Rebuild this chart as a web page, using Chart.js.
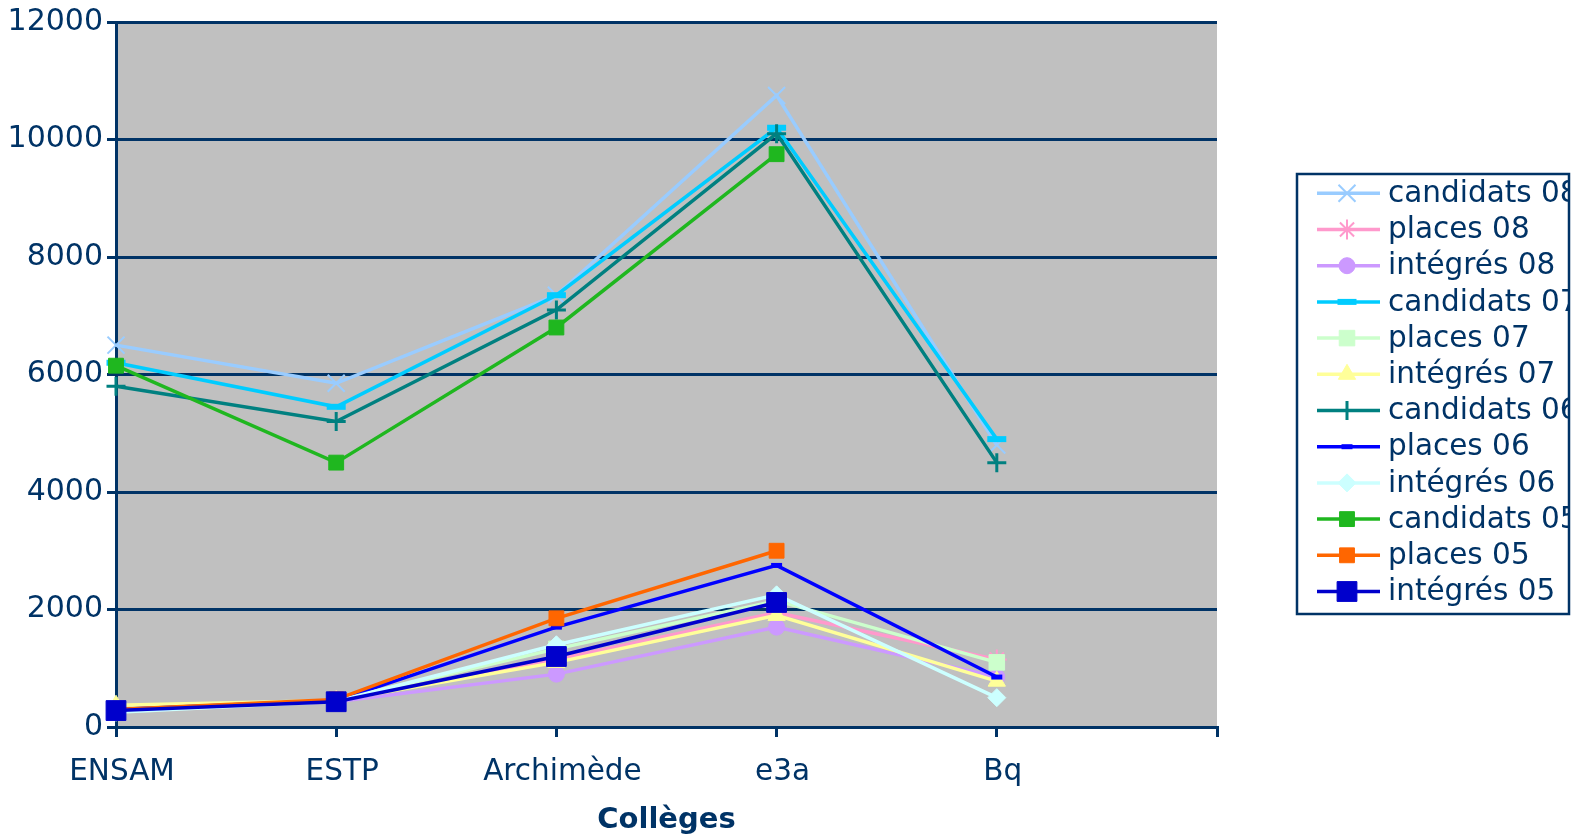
<!DOCTYPE html>
<html lang="fr">
<head>
  <meta charset="UTF-8" />
  <title>Collèges</title>
  <style>
    body { margin: 0; background: #fff; }
    canvas { display: block; }
  </style>
  <script src="https://cdn.jsdelivr.net/npm/chart.js"></script>
</head>
<body>
  <canvas id="chart" width="1585" height="838"></canvas>

  <script>
    // categories (last one is the empty slot at the right of the axis)
    const colleges = ["ENSAM", "ESTP", "Archimède", "e3a", "Bq", ""];
    const yTicks = [0, 2000, 4000, 6000, 8000, 10000, 12000];

    // series values
    const candidats08 = [6500, 5850, 7350, 10750, 4800, null];
    const places08    = [300, 450, 1150, 1950, 1150, null];
    const integres08  = [300, 430, 900, 1700, 850, null];
    const candidats07 = [6200, 5450, 7350, 10200, 4900, null];
    const places07    = [300, 450, 1330, 2150, 1100, null];
    const integres07  = [370, 450, 1100, 1900, 780, null];
    const candidats06 = [5800, 5200, 7100, 10100, 4500, null];
    const places06    = [300, 450, 1700, 2750, 850, null];
    const integres06  = [250, 440, 1400, 2250, 500, null];
    const candidats05 = [6150, 4500, 6800, 9750, null, null];
    const places05    = [300, 470, 1850, 3000, null, null];
    const integres05  = [280, 430, 1200, 2120, null, null];

    const navy = "#003366";
    const font = "'DejaVu Sans', Verdana, sans-serif";

    // label, data, colour, marker style, radius, marker border width
    const series = [
      ["candidats 08", candidats08, "#99CCFF", "crossRot", 12, 2],
      ["places 08",    places08,    "#FF99CC", "star",     10, 2],
      ["intégrés 08",  integres08,  "#CC99FF", "circle",   8, 1],
      ["candidats 07", candidats07, "#00CCFF", "line",     9.5, 6],
      ["places 07",    places07,    "#CCFFCC", "rect",     11, 1],
      ["intégrés 07",  integres07,  "#FFFF99", "triangle", 10, 1],
      ["candidats 06", candidats06, "#008080", "cross",    9.5, 3],
      ["places 06",    places06,    "#0000FF", "line",     5.5, 5],
      ["intégrés 06",  integres06,  "#CCFFFF", "rectRot",  9, 1],
      ["candidats 05", candidats05, "#1FB71F", "rect",     10.5, 1],
      ["places 05",    places05,    "#FF6600", "rect",     10.5, 1],
      ["intégrés 05",  integres05,  "#0000CC", "rect",     14, 1]
    ];

    const datasets = series.map((s, i) => ({
      label: s[0],
      data: s[1],
      borderColor: s[2],
      backgroundColor: s[2],
      borderWidth: 3.5,
      pointStyle: s[3],
      pointRadius: s[4],
      pointBorderWidth: s[5],
      pointBorderColor: s[2],
      pointBackgroundColor: s[2],
      tension: 0,
      clip: false,
      order: series.length - i   // later series drawn on top
    }));

    // grey plot background
    const plotBackground = {
      id: "plotBackground",
      beforeDraw(chart) {
        const a = chart.chartArea, ctx = chart.ctx;
        ctx.save();
        ctx.fillStyle = "#C0C0C0";
        ctx.fillRect(a.left, a.top, a.right - a.left, a.bottom - a.top);
        ctx.restore();
      }
    };

    // boxed legend on the right, text clipped by the frame like the original
    const boxLegend = {
      id: "boxLegend",
      afterDraw(chart) {
        const ctx = chart.ctx;
        const bx = 1297, by = 174, bw = 272, bh = 440;
        ctx.save();
        ctx.fillStyle = "#fff";
        ctx.fillRect(bx, by, bw, bh);
        ctx.beginPath();
        ctx.rect(bx, by, bw, bh);
        ctx.clip();
        chart.data.datasets.forEach((ds, i) => {
          const y = 193.3 + i * 36.2;
          ctx.strokeStyle = ds.borderColor;
          ctx.lineWidth = 3.5;
          ctx.beginPath();
          ctx.moveTo(1317, y);
          ctx.lineTo(1380, y);
          ctx.stroke();
          ctx.fillStyle = ds.pointBackgroundColor;
          ctx.strokeStyle = ds.pointBorderColor;
          ctx.lineWidth = ds.pointBorderWidth;
          Chart.helpers.drawPoint(ctx, {
            pointStyle: ds.pointStyle,
            radius: ds.pointRadius,
            rotation: 0,
            borderWidth: ds.pointBorderWidth
          }, 1347, y);
          ctx.fillStyle = navy;
          ctx.font = "29.5px " + font;
          ctx.textBaseline = "middle";
          ctx.textAlign = "left";
          ctx.fillText(ds.label, 1388, y + 1);
        });
        ctx.restore();
        ctx.save();
        ctx.strokeStyle = navy;
        ctx.lineWidth = 2.5;
        ctx.strokeRect(bx, by, bw, bh);
        ctx.restore();
      }
    };

    new Chart(document.getElementById("chart"), {
      type: "line",
      data: { labels: colleges, datasets: datasets },
      options: {
        responsive: false,
        animation: false,
        devicePixelRatio: 1,
        layout: { padding: { top: 21, right: 368, bottom: 0, left: 0 } },
        plugins: {
          legend: { display: false },
          tooltip: { enabled: false }
        },
        scales: {
          x: {
            offset: false,
            grid: {
              drawOnChartArea: false,
              drawTicks: true,
              tickLength: 10,
              color: navy,
              lineWidth: 3
            },
            border: { color: navy, width: 3 },
            ticks: {
              color: navy,
              font: { family: font, size: 29.5 },
              padding: 18,
              labelOffset: 6,
              maxRotation: 0,
              autoSkip: false
            },
            title: {
              display: true,
              text: "Collèges",
              color: navy,
              font: { family: font, size: 29, weight: "bold" },
              padding: { top: 0, bottom: 0 }
            },
            afterFit(scale) { scale.height = 111; }
          },
          y: {
            min: 0,
            max: 12000,
            afterBuildTicks(scale) { scale.ticks = yTicks.map(v => ({ value: v })); },
            grid: {
              color: navy,
              lineWidth: 3,
              tickLength: 9
            },
            border: { color: navy, width: 3 },
            ticks: {
              color: navy,
              font: { family: font, size: 30 },
              padding: 4,
              callback: v => String(v)
            },
            afterFit(scale) { scale.width = 116; }
          }
        }
      },
      plugins: [plotBackground, boxLegend]
    });
  </script>
</body>
</html>
